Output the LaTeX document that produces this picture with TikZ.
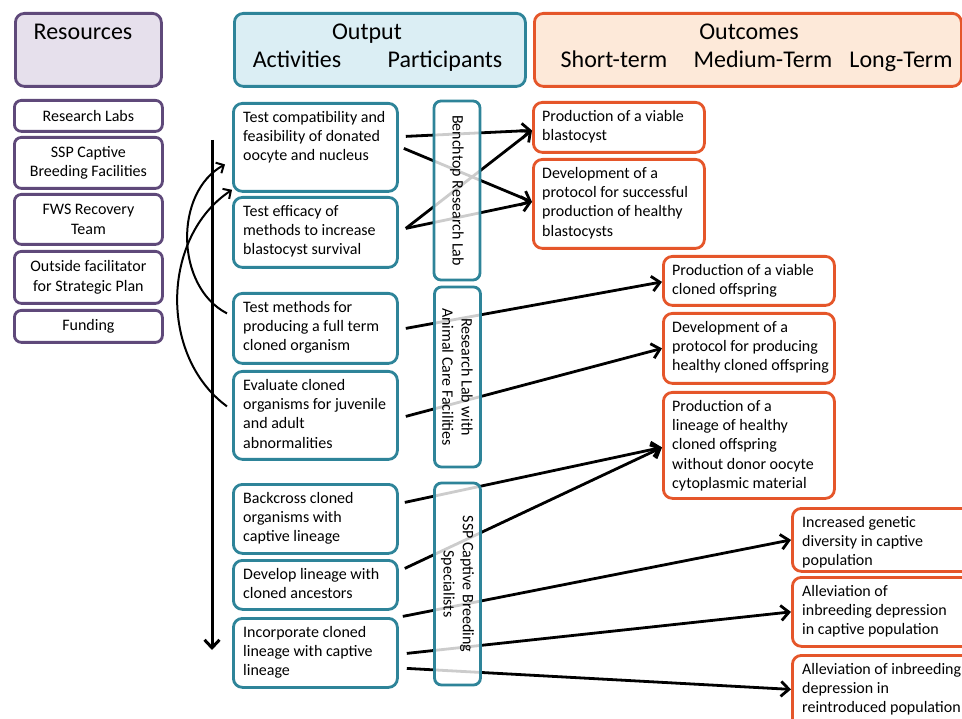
\documentclass[tikz,border=0pt]{standalone}
\usepackage{fontspec}
\setmainfont{Carlito}
\usetikzlibrary{arrows.meta,calc}
\definecolor{tealb}{HTML}{2E8499}
\definecolor{tealf}{HTML}{DBEEF4}
\definecolor{purpb}{HTML}{5F497A}
\definecolor{purpf}{HTML}{E6E0EC}
\definecolor{orgb}{HTML}{E5562A}
\definecolor{orgf}{HTML}{FDE9D9}
\newcommand\mybody{\fontsize{16}{19.3}\selectfont}
\newcommand\myhead{\fontsize{24}{28}\selectfont}
\begin{document}
\begin{tikzpicture}[x=1pt,y=-1pt,
  hbox/.style={draw, line width=2.8pt, rounded corners=9pt, anchor=north west, inner sep=0pt},
  htxt/.style={font=\myhead, inner sep=0pt, anchor=base},
  rbox/.style={draw=purpb, line width=2.8pt, rounded corners=7pt, fill=white, anchor=north west, inner sep=0pt, minimum width=148pt, align=center, font=\mybody},
  abox/.style={draw=tealb, line width=2.8pt, rounded corners=9pt, fill=white, anchor=north west, inner sep=0pt, minimum width=164pt},
  obox/.style={draw=orgb, line width=2.8pt, rounded corners=9pt, fill=white, anchor=north west, inner sep=0pt},
  pbox/.style={draw=tealb, line width=2.8pt, rounded corners=7pt, fill=white, fill opacity=0.8, text opacity=1, rotate=-90, minimum height=46pt, align=center, font=\mybody, inner sep=0pt},
  btxt/.style={anchor=north west, inner sep=0pt, align=left, font=\mybody},
  conn/.style={line width=2.8pt, -{Straight Barb[length=8pt,width=15pt]}},
  curv/.style={line width=2pt, -{Straight Barb[length=6pt,width=12pt]}}
]
\useasboundingbox (0,0) rectangle (962,719);

% header
\node[hbox, draw=purpb, fill=purpf, minimum width=146pt, minimum height=73pt] (hres) at (14,12) {};
\node[htxt] (hrest) at (83,40) {Resources};
\node[hbox, draw=tealb, fill=tealf, minimum width=291pt, minimum height=73pt] (hout) at (233,12) {};
\node[htxt] (houtt) at (367,40) {Output};
\node[htxt] (hact) at (297,68) {Activities};
\node[htxt] (hpar) at (445,68) {Participants};
\node[hbox, draw=orgb, fill=orgf, minimum width=427pt, minimum height=73pt] (hoc) at (533,12) {};
\node[htxt] (hoct) at (749,40) {Outcomes};
\node[htxt] (hst) at (614,68) {Short-term};
\node[htxt] (hmt) at (763,68) {Medium-Term};
\node[htxt] (hlt) at (901,68) {Long-Term};

% resources
\node[rbox, minimum height=31pt] (r1) at (13,99) {Research Labs};
\node[rbox, minimum height=51pt] (r2) at (13,136) {SSP Captive\\Breeding Facilities};
\node[rbox, minimum height=50pt] (r3) at (13,193) {FWS Recovery\\Team};
\node[rbox, minimum height=52pt] (r4) at (13,250) {Outside facilitator\\for Strategic Plan};
\node[rbox, minimum height=32pt] (r5) at (13,309) {Funding};

% activities
\node[abox, minimum height=88pt] (a1) at (232,102) {};
\node[abox, minimum height=70pt] (a2) at (232,196) {};
\node[abox, minimum height=70pt] (a3) at (232,292) {};
\node[abox, minimum height=88pt] (a4) at (232,370) {};
\node[abox, minimum height=69pt] (a5) at (232,483) {};
\node[abox, minimum height=49pt] (a6) at (232,559) {};
\node[abox, minimum height=69pt] (a7) at (232,617) {};

% outcomes
\node[obox, minimum width=171pt, minimum height=50pt] (o1) at (532,101) {};
\node[obox, minimum width=171pt, minimum height=89pt] (o2) at (532,158) {};
\node[obox, minimum width=171pt, minimum height=49pt] (o3) at (662,255) {};
\node[obox, minimum width=171pt, minimum height=70pt] (o4) at (662,312) {};
\node[obox, minimum width=171pt, minimum height=106pt] (o5) at (662,391) {};
\node[obox, minimum width=200pt, minimum height=63pt] (o6) at (791,507) {};
\node[obox, minimum width=200pt, minimum height=69pt] (o7) at (791,576) {};
\node[obox, minimum width=200pt, minimum height=80pt] (o8) at (791,654) {};

% connectors (drawn before participant boxes)
\draw[conn] ([shift={(7,-11)}]a1.east) -- ([shift={(0,3)}]o1.west);
\draw[conn] ([shift={(5,1)}]a1.east) -- ([shift={(0,-2)}]o2.west);
\draw[conn] ([shift={(7,-4)}]a2.east) -- ([shift={(0,3)}]o1.west);
\draw[conn] ([shift={(7,-4)}]a2.east) -- ([shift={(0,-2)}]o2.west);
\draw[conn] ([shift={(7,0)}]a3.east) -- ([shift={(0,1)}]o3.west);
\draw[conn] ([shift={(7,1)}]a4.east) -- (o4.west);
\draw[conn] ([shift={(6,-16.5)}]a5.east) -- ([shift={(0,2)}]o5.west);
\draw[conn] ([shift={(6,-16.5)}]a6.east) -- ([shift={(0,2)}]o5.west);
\draw[conn] ([shift={(4,31.5)}]a6.east) -- (o6.west);
\draw[conn] ([shift={(8,0.5)}]a7.east) -- (o7.west);
\draw[conn] ([shift={(8,15.5)}]a7.east) -- ([shift={(0,-6)}]o8.west);

% participants
\node[pbox, minimum width=179pt] (p1) at (457,190.5) {Benchtop Research Lab};
\node[pbox, minimum width=180pt] (p2) at (457.5,377) {Research Lab with\\Animal Care Facilities};
\node[pbox, minimum width=202pt] (p3) at (457.5,584) {SSP Captive Breeding\\Specialists};

% texts in activity boxes
\node[btxt] (a1t) at ([shift={(11,9)}]a1.north west) {Test compatibility and\\feasibility of donated\\oocyte and nucleus};
\node[btxt] (a2t) at ([shift={(11,9)}]a2.north west) {Test efficacy of\\methods to increase\\blastocyst survival};
\node[btxt] (a3t) at ([shift={(11,9)}]a3.north west) {Test methods for\\producing a full term\\cloned organism};
\node[btxt] (a4t) at ([shift={(11,9)}]a4.north west) {Evaluate cloned\\organisms for juvenile\\and adult\\abnormalities};
\node[btxt] (a5t) at ([shift={(11,9)}]a5.north west) {Backcross cloned\\organisms with\\captive lineage};
\node[btxt] (a6t) at ([shift={(11,9)}]a6.north west) {Develop lineage with\\cloned ancestors};
\node[btxt] (a7t) at ([shift={(11,9)}]a7.north west) {Incorporate cloned\\lineage with captive\\lineage};

% texts in outcome boxes
\node[btxt] (o1t) at ([shift={(10,9)}]o1.north west) {Production of a viable\\blastocyst};
\node[btxt] (o2t) at ([shift={(10,9)}]o2.north west) {Development of a\\protocol for successful\\production of healthy\\blastocysts};
\node[btxt] (o3t) at ([shift={(10,9)}]o3.north west) {Production of a viable\\cloned offspring};
\node[btxt] (o4t) at ([shift={(10,9)}]o4.north west) {Development of a\\protocol for producing\\healthy cloned offspring};
\node[btxt] (o5t) at ([shift={(10,9)}]o5.north west) {Production of a\\lineage of healthy\\cloned offspring\\without donor oocyte\\cytoplasmic material};
\node[btxt] (o6t) at ([shift={(11,9)}]o6.north west) {Increased genetic\\diversity in captive\\population};
\node[btxt] (o7t) at ([shift={(11,9)}]o7.north west) {Alleviation of\\inbreeding depression\\in captive population};
\node[btxt] (o8t) at ([shift={(11,9)}]o8.north west) {Alleviation of inbreeding\\depression in\\reintroduced population};

% time arrow and feedback curves
\coordinate (vtop) at (212,140);
\coordinate (vbot) at (212,650);
\draw[line width=3pt, -{Straight Barb[length=8pt,width=15pt]}] (vtop) -- (vbot);
\draw[curv] ([shift={(-5,-15)}]a3.west) to[bend left=62] ([shift={(-7,17)}]a1.west);
\draw[curv] ([shift={(-5,-9)}]a4.west) to[bend left=55] ([shift={(0,-3)}]a1.south west);
\end{tikzpicture}
\end{document}
